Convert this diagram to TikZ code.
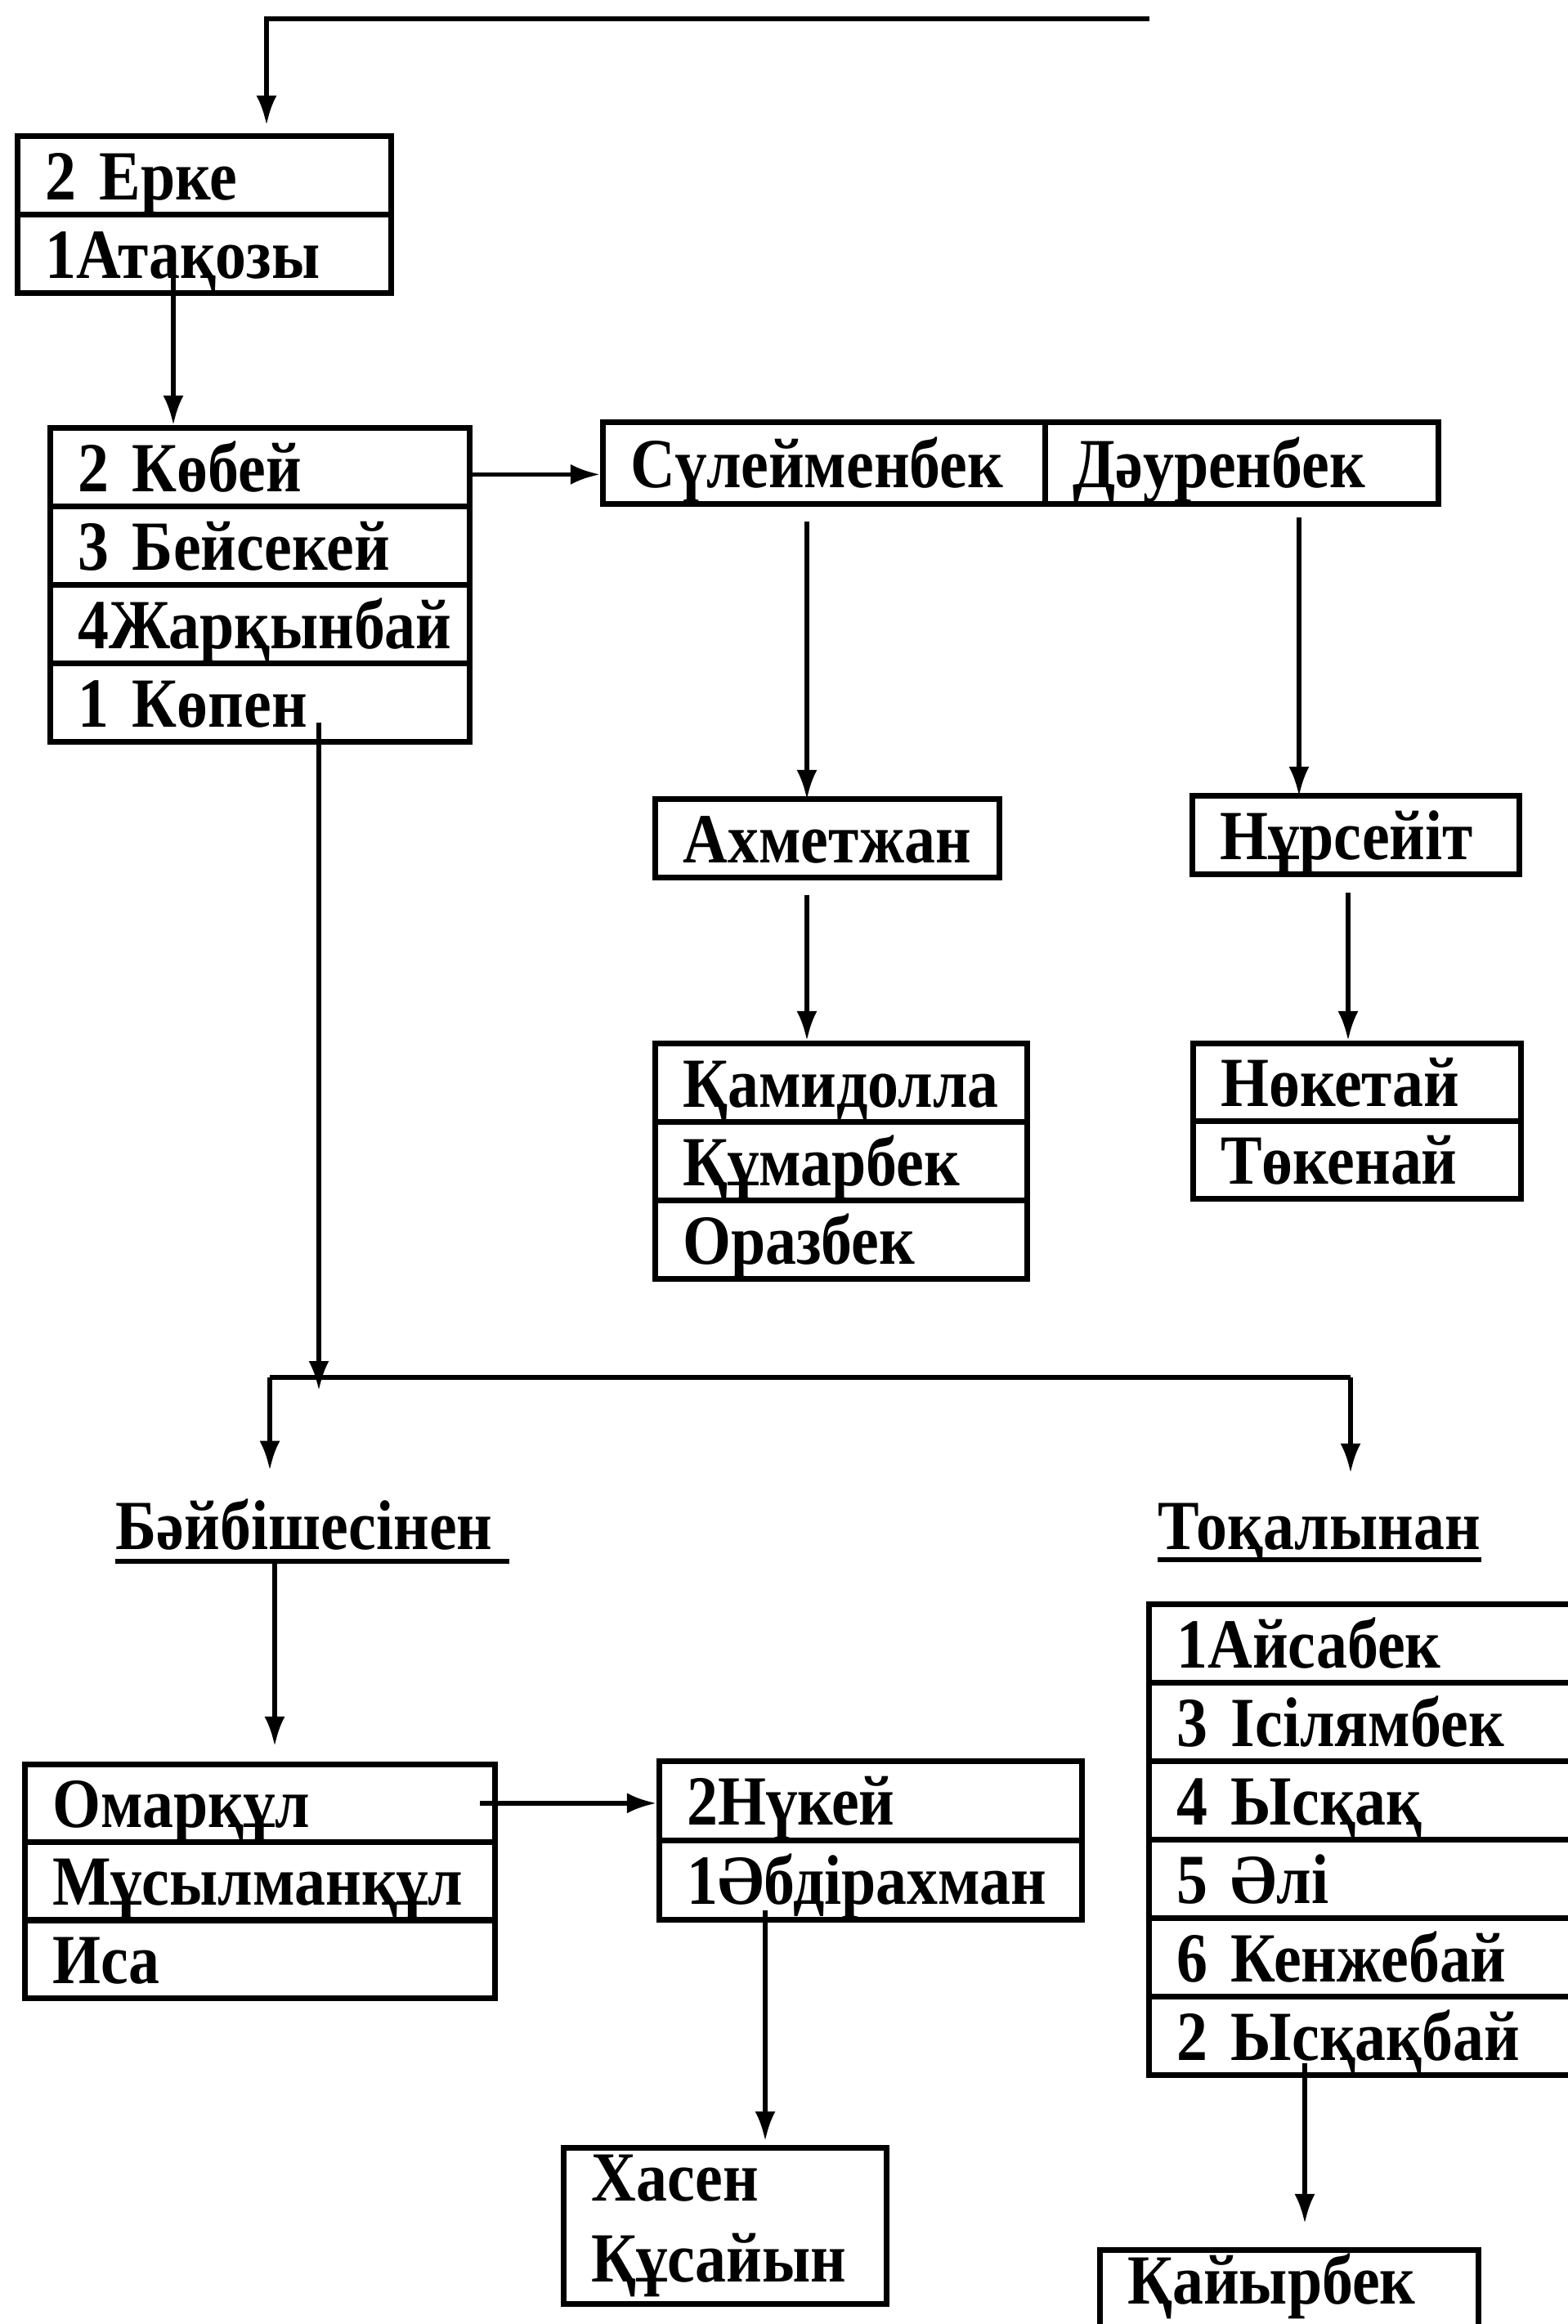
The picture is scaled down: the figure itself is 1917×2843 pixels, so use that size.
\documentclass[tikz,border=0pt]{standalone}
\usepackage{fontspec}
\setmainfont{Liberation Serif}[FakeStretch=0.88]
\usetikzlibrary{arrows.meta}
\newcommand\dfont{\fontsize{24.5}{27}\selectfont\bfseries}
\begin{document}
\begin{tikzpicture}[x=0.01cm,y=-0.01cm,
  cellbase/.style={draw, line width=1.9pt, anchor=north west, inner xsep=0.34cm, inner ysep=0pt, align=left, font=\dfont},
  cell/.style={cellbase, text height=0.66cm, text depth=0.06cm},
  lbl/.style={inner sep=0pt, anchor=base west, font=\dfont},
  arr/.style={line width=1.6pt, -{Latex[length=0.36cm,width=0.25cm]}},
  conn/.style={line width=1.6pt}]
\useasboundingbox (0,0) rectangle (1917,2843);

% columns for vertical connectors
\coordinate (xA) at (212,0);
\coordinate (xS) at (987,0);
\coordinate (xD) at (1589,0);
\coordinate (xN) at (1649,0);
\coordinate (xK) at (390,0);
\coordinate (xB) at (336,0);
\coordinate (xH) at (936,0);
\coordinate (xI) at (1596,0);
\coordinate (topR) at (1406,23);
\coordinate (topL) at (326,23);
\coordinate (splitL) at (330,1685);
\coordinate (splitR) at (1652,1685);

% Erke / Atakozy
\node[cell, text width=3.89cm, minimum height=0.96cm] (erke) at (18,163) {2 Ерке};
\node[cell, text width=3.89cm, minimum height=0.96cm] (atak) at (18,259) {1Атақозы};

% Kobey column
\node[cell, text width=4.45cm, minimum height=0.96cm] (kob1) at (58,520) {2 Көбей};
\node[cell, text width=4.45cm, minimum height=0.96cm] (kob2) at (58,616) {3 Бейсекей};
\node[cell, text width=4.45cm, minimum height=0.96cm] (kob3) at (58,712) {4Жарқынбай};
\node[cell, text width=4.45cm, minimum height=0.96cm] (kop) at (58,808) {1 Көпен};

% Suleimenbek / Dauirenbek
\node[cell, text width=4.73cm, minimum height=1.00cm] (sul) at (734,513) {Сүлейменбек};
\node[cell, text width=4.13cm, minimum height=1.00cm] (dau) at (1275,513) {Дәуренбек};

\node[cell, text width=3.53cm, minimum height=0.96cm] (ahm) at (798,974) {Ахметжан};
\node[cell, text width=3.32cm, minimum height=0.96cm] (nur) at (1455,970) {Нұрсейіт};

\node[cell, text width=3.87cm, minimum height=0.96cm] (kam1) at (798,1273) {Қамидолла};
\node[cell, text width=3.87cm, minimum height=0.96cm] (kam2) at (798,1369) {Құмарбек};
\node[cell, text width=3.87cm, minimum height=0.96cm] (kam3) at (798,1465) {Оразбек};

\node[cell, text width=3.33cm, minimum height=0.95cm] (nok1) at (1456,1273) {Нөкетай};
\node[cell, text width=3.33cm, minimum height=0.95cm] (nok2) at (1456,1368) {Төкенай};

% labels
\node[lbl] (baib) at (141,1895) {Бәйбішесінен};
\node[lbl] (tok) at (1416,1895) {Тоқалынан};
\draw[conn] ([yshift=-0.15cm]baib.base west) -- ([yshift=-0.15cm,xshift=0.2cm]baib.base east);
\draw[conn] ([yshift=-0.13cm]tok.base west) -- ([yshift=-0.13cm]tok.base east);

% Omarkul column
\node[cell, text width=5.07cm, minimum height=0.95cm] (om1) at (27,2155) {Омарқұл};
\node[cell, text width=5.07cm, minimum height=0.95cm] (om2) at (27,2250) {Мұсылманқұл};
\node[cell, text width=5.07cm, minimum height=0.95cm] (om3) at (27,2346) {Иса};

\node[cell, text width=4.49cm, minimum height=0.97cm] (nk1) at (803,2151) {2Нүкей};
\node[cell, text width=4.49cm, minimum height=0.97cm] (nk2) at (803,2248) {1Әбдірахман};

\node[cellbase, text width=3.27cm, minimum height=1.91cm, font=\fontsize{24.5}{28}\selectfont\bfseries] (has) at (686,2624) {Хасен\\Құсайын};

% Tokalynan column
\node[cell, text width=4.62cm, minimum height=0.96cm] (tk1) at (1402,1959) {1Айсабек};
\node[cell, text width=4.62cm, minimum height=0.96cm] (tk2) at (1402,2055) {3 Ісілямбек};
\node[cell, text width=4.62cm, minimum height=0.96cm] (tk3) at (1402,2151) {4 Ысқақ};
\node[cell, text width=4.62cm, minimum height=0.96cm] (tk4) at (1402,2247) {5 Әлі};
\node[cell, text width=4.62cm, minimum height=0.96cm] (tk5) at (1402,2343) {6 Кенжебай};
\node[cell, text width=4.62cm, minimum height=0.96cm] (tk6) at (1402,2439) {2 Ысқақбай};

\node[cellbase, text width=3.95cm, minimum height=1.20cm, text height=0.56cm, text depth=0.44cm] (kai) at (1342,2749) {Қайырбек};

% connectors
\draw[arr] (topR) -- (topL) -- ([yshift=0.1cm]erke.north -| topL);
\draw[arr] ([yshift=0.22cm]atak.south -| xA) -- (kob1.north -| xA);
\draw[arr] ([yshift=-0.09cm]kob1.east) -- ([yshift=-0.09cm]kob1.east -| sul.west);
\draw[arr] ([yshift=-0.18cm]sul.south -| xS) -- ([yshift=-0.04cm]ahm.north -| xS);
\draw[arr] ([yshift=-0.13cm]dau.south -| xD) -- ([yshift=-0.04cm]nur.north -| xD);
\draw[arr] ([yshift=-0.18cm]ahm.south -| xS) -- (kam1.north -| xS);
\draw[arr] ([yshift=-0.19cm]nur.south -| xN) -- (nok1.north -| xN);
\draw[arr] ([yshift=0.27cm]kop.south -| xK) -- ([yshift=-0.16cm]splitL -| xK);
\draw[conn] (splitL) -- (splitR);
\draw[arr] (splitL) -- ([yshift=0.34cm]baib.north -| splitL);
\draw[arr] (splitR) -- ([yshift=0.36cm]tok.north -| splitR);
\draw[arr] ([yshift=-0.15cm]baib.base -| xB) -- ([yshift=0.19cm]om1.north -| xB);
\draw[arr] ([xshift=-0.22cm]om1.east) -- (om1.east -| nk1.west);
\draw[arr] ([yshift=0.15cm]nk2.south -| xH) -- ([yshift=0.05cm]has.north -| xH);
\draw[arr] ([yshift=0.18cm]tk6.south -| xI) -- ([yshift=0.29cm]kai.north -| xI);
\end{tikzpicture}
\end{document}
